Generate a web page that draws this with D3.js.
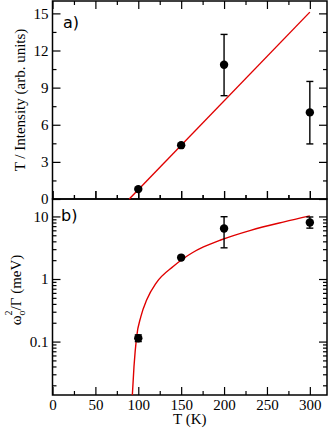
<!DOCTYPE html>
<html>
<head>
<meta charset="utf-8">
<script src="https://cdn.jsdelivr.net/npm/d3@7"></script>
<style>
  body { margin: 0; background: #fff; }
</style>
</head>
<body>
<div id="wrapper"></div>
<script>
// measured points (same temperatures in both panels)
const temps = [100, 150, 200, 300]
const ratioValues = [0.8, 4.35, 10.85, 7.0]
const ratioLow = [0.8, 4.35, 8.35, 4.45]
const ratioHigh = [0.8, 4.35, 13.3, 9.5]
const omegaValues = [0.113, 2.2, 6.4, 8.0]
const omegaLow = [0.1, 2.2, 3.15, 6.5]
const omegaHigh = [0.128, 2.2, 9.9, 9.8]

// fit lines
const lineTemps = [89.5, 300]
const lineValues = [0, 15.1]
const curveTemps = [92.8, 95, 98, 103, 110, 121, 141, 151, 163, 176, 196, 231, 270, 300]
const curveValues = [0.012, 0.04, 0.117, 0.25, 0.47, 0.87, 1.6, 2.05, 2.63, 3.25, 4.2, 6.0, 8.2, 10.2]

// ticks
const xMajor = [0, 50, 100, 150, 200, 250, 300]
const xMinor = [25, 75, 125, 175, 225, 275]
const topMajor = [0, 3, 6, 9, 12, 15]
const topMinor = [1.5, 4.5, 7.5, 10.5, 13.5]
const logMajor = [0.1, 1, 10]
const logMinor = [0.02, 0.03, 0.04, 0.05, 0.06, 0.07, 0.08, 0.09,
                  0.2, 0.3, 0.4, 0.5, 0.6, 0.7, 0.8, 0.9,
                  2, 3, 4, 5, 6, 7, 8, 9]

function drawGraph() {
  const width = 332
  const height = 430
  const plot = { left: 52.5, right: 327, top: 1, mid: 199, bottom: 395 }

  const svg = d3.select("#wrapper")
    .append("svg")
      .attr("width", width)
      .attr("height", height)

  const xScale = d3.scaleLinear()
    .domain([0, 320])
    .range([plot.left, plot.right])

  const yTop = d3.scaleLinear()
    .domain([0, 16])
    .range([plot.mid, plot.top])

  const yBot = d3.scaleLog()
    .domain([0.014, 19])
    .range([plot.bottom, plot.mid])

  const serif = "'Liberation Serif', 'Times New Roman', serif"

  // draws inward ticks with an axis generator, optional labels
  function ticks(axisFn, scale, values, size, transform, labels) {
    const axis = axisFn(scale)
      .tickValues(values)
      .tickSize(-size)
      .tickSizeOuter(0)
      .tickPadding(labels ? 4 : 0)
      .tickFormat(labels ? labels : () => "")
    const g = svg.append("g")
      .attr("transform", transform)
      .call(axis)
    g.select(".domain").remove()
    g.selectAll(".tick line").attr("stroke", "#000").attr("stroke-width", 1.2)
    g.selectAll("text")
      .attr("fill", "#000")
      .style("font-family", serif)
      .style("font-size", "15px")
    return g
  }

  // x ticks on every horizontal border
  ticks(d3.axisTop, xScale, xMajor, 8, `translate(0,${plot.top})`)
  ticks(d3.axisTop, xScale, xMinor, 4, `translate(0,${plot.top})`)
  ticks(d3.axisBottom, xScale, xMajor, 8, `translate(0,${plot.mid})`)
  ticks(d3.axisBottom, xScale, xMinor, 4, `translate(0,${plot.mid})`)
  ticks(d3.axisTop, xScale, xMajor, -8, `translate(0,${plot.mid})`)
  ticks(d3.axisTop, xScale, xMinor, -4, `translate(0,${plot.mid})`)
  ticks(d3.axisBottom, xScale, xMajor, 8, `translate(0,${plot.bottom})`, d3.format("d"))
  ticks(d3.axisBottom, xScale, xMinor, 4, `translate(0,${plot.bottom})`)

  // y ticks, top panel
  ticks(d3.axisLeft, yTop, topMajor, 8, `translate(${plot.left},0)`, d3.format("d"))
  ticks(d3.axisLeft, yTop, topMinor, 4, `translate(${plot.left},0)`)
  ticks(d3.axisRight, yTop, topMajor, 8, `translate(${plot.right},0)`)
  ticks(d3.axisRight, yTop, topMinor, 4, `translate(${plot.right},0)`)

  // y ticks, bottom panel (log)
  ticks(d3.axisLeft, yBot, logMajor, 8, `translate(${plot.left},0)`, d => d < 1 ? "0.1" : String(d))
  ticks(d3.axisLeft, yBot, logMinor, 4, `translate(${plot.left},0)`)
  ticks(d3.axisRight, yBot, logMajor, 8, `translate(${plot.right},0)`)
  ticks(d3.axisRight, yBot, logMinor, 4, `translate(${plot.right},0)`)

  // frames
  const frame = [[plot.top, plot.mid], [plot.mid, plot.bottom]]
  svg.selectAll("rect.frame")
    .data(frame)
    .enter()
    .append("rect")
      .attr("class", "frame")
      .attr("x", plot.left)
      .attr("y", d => d[0])
      .attr("width", plot.right - plot.left)
      .attr("height", d => d[1] - d[0])
      .attr("fill", "none")
      .attr("stroke", "#000")
      .attr("stroke-width", 1.5)

  svg.append("clipPath").attr("id", "clipBot")
    .append("rect")
      .attr("x", plot.left)
      .attr("y", plot.mid)
      .attr("width", plot.right - plot.left)
      .attr("height", plot.bottom - plot.mid)

  // top panel: linear fit
  const lineData = lineTemps.map((t, i) => [t, lineValues[i]])
  svg.append("path")
    .datum(lineData)
    .attr("fill", "none")
    .attr("stroke", "#e00000")
    .attr("stroke-width", 1.4)
    .attr("d", d3.line().x(d => xScale(d[0])).y(d => yTop(d[1])))

  // bottom panel: fit curve
  const curveData = curveTemps.map((t, i) => [t, curveValues[i]])
  svg.append("path")
    .datum(curveData)
    .attr("clip-path", "url(#clipBot)")
    .attr("fill", "none")
    .attr("stroke", "#e00000")
    .attr("stroke-width", 1.4)
    .attr("d", d3.line()
      .x(d => xScale(d[0]))
      .y(d => yBot(d[1]))
      .curve(d3.curveMonotoneX))

  // points with error bars
  function drawPoints(yScale, values, low, high) {
    const data = temps.map((t, i) => ({ t, v: values[i], lo: low[i], hi: high[i] }))
    const g = svg.append("g")
    const bars = data.filter(d => d.hi - d.lo > 0)
    g.selectAll("line.bar")
      .data(bars)
      .enter()
      .append("line")
        .attr("x1", d => xScale(d.t))
        .attr("x2", d => xScale(d.t))
        .attr("y1", d => yScale(d.lo))
        .attr("y2", d => yScale(d.hi))
        .attr("stroke", "#000")
        .attr("stroke-width", 1.4)
    const caps = bars.flatMap(d => [{ t: d.t, v: d.lo }, { t: d.t, v: d.hi }])
    g.selectAll("line.cap")
      .data(caps)
      .enter()
      .append("line")
        .attr("x1", d => xScale(d.t) - 3.5)
        .attr("x2", d => xScale(d.t) + 3.5)
        .attr("y1", d => yScale(d.v))
        .attr("y2", d => yScale(d.v))
        .attr("stroke", "#000")
        .attr("stroke-width", 1.4)
    g.selectAll("circle")
      .data(data)
      .enter()
      .append("circle")
        .attr("cx", d => xScale(d.t))
        .attr("cy", d => yScale(d.v))
        .attr("r", 4.2)
        .attr("fill", "#000")
  }
  drawPoints(yTop, ratioValues, ratioLow, ratioHigh)
  drawPoints(yBot, omegaValues, omegaLow, omegaHigh)

  // panel labels
  const sans = "'DejaVu Sans', sans-serif"
  svg.append("text")
    .attr("x", 63).attr("y", 28)
    .style("font-family", sans).style("font-size", "16px")
    .text("a)")
  svg.append("text")
    .attr("x", 61).attr("y", 221)
    .style("font-family", sans).style("font-size", "16px")
    .text("b)")

  // axis titles
  svg.append("text")
    .attr("x", (plot.left + plot.right) / 2)
    .attr("y", 424)
    .attr("text-anchor", "middle")
    .style("font-family", serif).style("font-size", "15px")
    .text("T (K)")

  svg.append("text")
    .attr("transform", "translate(25,100) rotate(-90)")
    .attr("text-anchor", "middle")
    .style("font-family", serif).style("font-size", "15px")
    .text("T / Intensity (arb. units)")

  const omegaLabel = svg.append("text")
    .attr("transform", "translate(21,290) rotate(-90)")
    .attr("text-anchor", "middle")
    .style("font-family", serif).style("font-size", "15px")
  omegaLabel.append("tspan").text("ω")
  omegaLabel.append("tspan").attr("dy", 4).style("font-size", "10px").text("o")
  omegaLabel.append("tspan").attr("dx", -5).attr("dy", -13).style("font-size", "10px").text("2")
  omegaLabel.append("tspan").attr("dy", 9).text("/Γ (meV)")
}

drawGraph()
</script>
</body>
</html>
